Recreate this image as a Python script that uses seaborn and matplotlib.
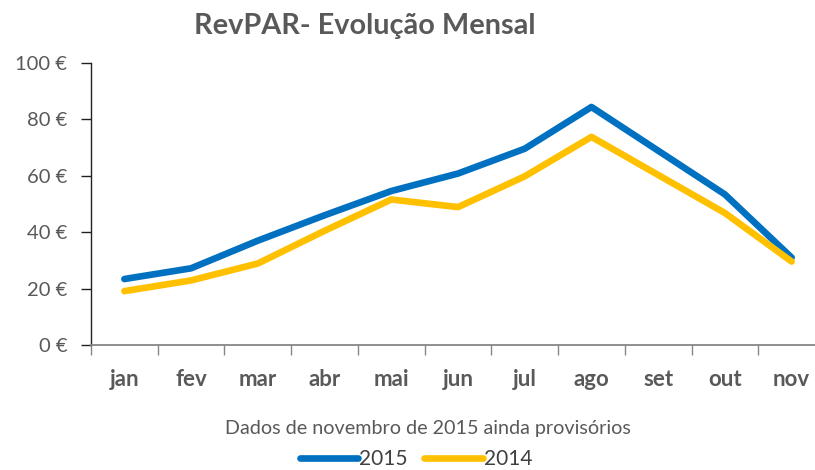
import matplotlib
matplotlib.use('Agg')
import matplotlib.pyplot as plt
import seaborn as sns
import pandas as pd
from matplotlib.ticker import FixedLocator, FuncFormatter
from matplotlib.lines import Line2D

months = ['jan', 'fev', 'mar', 'abr', 'mai', 'jun', 'jul', 'ago', 'set', 'out', 'nov']
revpar_2015 = [23.4, 27.2, 37.0, 46.0, 54.6, 60.8, 69.6, 84.4, 68.9, 53.4, 31.0]
revpar_2014 = [19.1, 22.9, 28.9, 40.5, 51.6, 48.9, 59.8, 73.8, 60.3, 46.8, 29.6]
years = ['2015', '2014']
colors = {'2015': '#0070C0', '2014': '#FFC000'}
y_ticks = [0, 20, 40, 60, 80, 100]
title = 'RevPAR- Evolução Mensal'
note = 'Dados de novembro de 2015 ainda provisórios'

df = pd.DataFrame({
    'mes': months * 2,
    'valor': revpar_2015 + revpar_2014,
    'ano': ['2015'] * len(months) + ['2014'] * len(months),
})

sns.set_theme(style='white')
plt.rcParams['font.family'] = ['Lato', 'DejaVu Sans']
grey = '#595959'

fig = plt.figure(figsize=(8.15, 4.7), dpi=100)
ax = fig.add_axes([91 / 815, 1 - 345 / 470, 734 / 815, 282 / 470])
sns.lineplot(data=df, x='mes', y='valor', hue='ano', hue_order=years,
             palette=colors, linewidth=4.8, ax=ax, legend=False, sort=False,
             solid_capstyle='round', solid_joinstyle='round')

ax.set_xlim(-0.5, len(months) - 0.5)
ax.set_ylim(0, 100)
ax.set_yticks(y_ticks)
ax.yaxis.set_major_formatter(FuncFormatter(lambda v, p: f'{v:.0f} €'))
ax.set_xlabel('')
ax.set_ylabel('')

ax.xaxis.set_minor_locator(FixedLocator([i - 0.5 for i in range(len(months) + 1)]))
ax.tick_params(axis='x', which='major', length=0, pad=17, labelsize=16,
               labelcolor=grey)
ax.tick_params(axis='x', which='minor', length=7, width=1, color='#868686',
               direction='out', bottom=True)
for lbl in ax.get_xticklabels():
    lbl.set_fontweight('bold')
ax.tick_params(axis='y', length=7, width=1, color='#222222', direction='out',
               left=True, pad=10, labelsize=14.5, labelcolor=grey)

for s in ['top', 'right']:
    ax.spines[s].set_visible(False)
ax.spines['left'].set_color('#222222')
ax.spines['left'].set_linewidth(1)
ax.spines['bottom'].set_color('#868686')
ax.spines['bottom'].set_linewidth(1.3)
ax.grid(False)

fig.text(364.5 / 815, 1 - 34.3 / 470, title, ha='center', va='baseline',
         fontsize=20.8, fontweight='bold', color=grey)
fig.text(428 / 815, 1 - 434 / 470, note, ha='center', va='baseline',
         fontsize=14.2, color=grey)

handles = [Line2D([0], [0], color=colors[y], linewidth=4.8, solid_capstyle='round')
           for y in years]
leg = fig.legend(handles, years, loc='center', bbox_to_anchor=(416 / 815, 1 - 459 / 470),
                 ncol=2, frameon=False, fontsize=15, handlelength=2.8,
                 handletextpad=0.05, columnspacing=0.8, borderaxespad=0, borderpad=0)
for t in leg.get_texts():
    t.set_color('#404040')

fig.savefig('out.png', dpi=100)
